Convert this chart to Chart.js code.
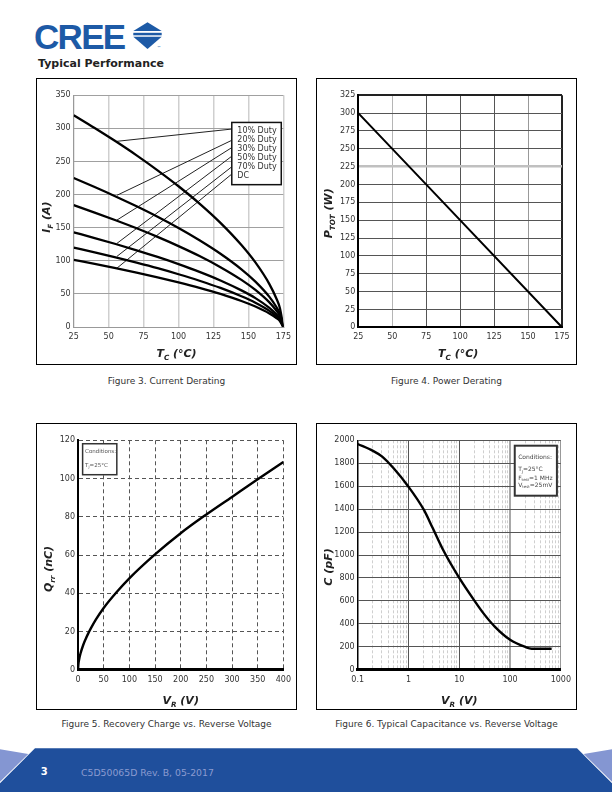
<!DOCTYPE html>
<html>
<head>
<meta charset="utf-8">
<script src="https://cdn.jsdelivr.net/npm/chart.js@4.4.0/dist/chart.umd.min.js"></script>
<style>
  body { margin: 0; background: #fff; }
  #page { position: relative; width: 612px; height: 792px; overflow: hidden; font-family: "DejaVu Sans", Verdana, sans-serif; }
  .box { position: absolute; width: 261px; height: 287px; border: 1px solid #000; box-sizing: border-box; }
  .box canvas { display: block; }
  .cap { position: absolute; width: 261px; text-align: center; font-size: 9px; line-height: 11px; color: #333; }
</style>
</head>
<body>
<div id="page">
  <div style="position:absolute;left:34px;top:18.7px;font:bold 35px/35px 'Liberation Sans',Arial,sans-serif;letter-spacing:-1.7px;color:#1d5aa6;">CREE</div>
  <svg style="position:absolute;left:132px;top:20px" width="34" height="32">
    <polygon points="15.5,2.3 1.3,11 29.7,11" fill="#1d5aa6"/>
    <rect x="1.3" y="12.8" width="28.4" height="2.5" fill="#1d5aa6"/>
    <polygon points="1.3,16.7 29.7,16.7 15.5,29" fill="#1d5aa6"/>
    <text x="25" y="29" font-size="4" fill="#1d5aa6" font-family="DejaVu Sans">™</text>
  </svg>
  <div style="position:absolute;left:38px;top:56.6px;font-weight:bold;font-size:11px;line-height:13px;color:#222;">Typical Performance</div>

  <div class="box" style="left:36px;top:78px"><canvas id="c1" width="259" height="285"></canvas></div>
  <div class="box" style="left:316px;top:78px"><canvas id="c2" width="259" height="285"></canvas></div>
  <div class="box" style="left:36px;top:423px"><canvas id="c3" width="259" height="285"></canvas></div>
  <div class="box" style="left:316px;top:423px"><canvas id="c4" width="259" height="285"></canvas></div>

  <div class="cap" style="left:36px;top:375.5px">Figure 3. Current Derating</div>
  <div class="cap" style="left:316px;top:375.5px">Figure 4. Power Derating</div>
  <div class="cap" style="left:36px;top:718.5px">Figure 5. Recovery Charge vs. Reverse Voltage</div>
  <div class="cap" style="left:316px;top:718.5px">Figure 6. Typical Capacitance vs. Reverse Voltage</div>

  <svg style="position:absolute;left:0;top:742px" width="612" height="50">
    <polygon points="0,7.3 28.3,12 0,39.7" fill="#8496d2"/>
    <polygon points="612,7.3 583.7,12 612,39.7" fill="#8496d2"/>
    <polygon points="35,6.3 577,6.3 612,41.3 612,50 0,50 0,41.3" fill="#1f4f9c"/>
  </svg>
  <div style="position:absolute;left:40.7px;top:766.2px;font-weight:bold;font-size:10px;line-height:12px;color:#fff;">3</div>
  <div style="position:absolute;left:81px;top:766.5px;font-size:9.3px;line-height:12px;color:#8b9bd0;">C5D50065D Rev. B, 05-2017</div>
</div>

<script>
// ---- Figure 3: current derating ----
var tcDerate = [25, 40, 55, 70, 85, 100, 115, 130, 145, 155, 165, 170, 172.5, 175];
var ifDuty10 = [320, 300.7, 280.5, 259.3, 236.7, 212.6, 186.4, 157.3, 123.8, 97.5, 64.8, 43, 28.6, 0];
var ifDuty20 = [225, 211.4, 197.2, 182.3, 166.5, 149.5, 131.0, 110.6, 87.1, 68.5, 45.5, 30.2, 20.1, 0];
var ifDuty30 = [184, 172.9, 161.3, 149.1, 136.1, 122.2, 107.2, 90.4, 71.2, 56.0, 37.2, 24.7, 16.4, 0];
var ifDuty50 = [143, 134.4, 125.4, 115.9, 105.8, 95.0, 83.3, 70.3, 55.3, 43.6, 28.9, 19.2, 12.8, 0];
var ifDuty70 = [120, 112.8, 105.2, 97.2, 88.8, 79.7, 69.9, 59.0, 46.4, 36.6, 24.3, 16.1, 10.7, 0];
var ifDC = [101.5, 95.4, 89.0, 82.2, 75.1, 67.4, 59.1, 49.9, 39.3, 30.9, 20.5, 13.6, 9.1, 0];
var dutyLabels = ['10% Duty', '20% Duty', '30% Duty', '50% Duty', '70% Duty', 'DC'];
// pointer lines: from the curve (Tc = 56) to the label box (Tc = 138)
var leaderTc = [56, 138.1];
var leaderFrom = [280.5, 199, 161.6, 126.4, 106.8, 89];
var leaderTo = [299, 282, 271, 258, 242, 231];
var tcTicks = [25, 50, 75, 100, 125, 150, 175];
var ifTicks = [0, 50, 100, 150, 200, 250, 300, 350];

// ---- Figure 4: power derating ----
var tcPower = [25, 175];
var pTot = [300, 0];
var pTicks = [0, 25, 50, 75, 100, 125, 150, 175, 200, 225, 250, 275, 300, 325];

// ---- Figure 5: recovery charge ----
var vrQ = [0, 1, 2, 5, 10, 15, 20, 25, 35, 50, 75, 100, 150, 200, 250, 300, 350, 400];
var qrr = [0, 3.4, 5.1, 8.6, 12.8, 16.1, 19, 21.6, 26.3, 32.3, 40.5, 47.8, 60.3, 71.4, 81.2, 90.4, 99.6, 108.7];
var vrTicks = [0, 50, 100, 150, 200, 250, 300, 350, 400];
var qTicks = [0, 20, 40, 60, 80, 100, 120];

// ---- Figure 6: capacitance ----
var vrC = [0.1, 0.2, 0.3, 0.5, 1, 2, 3, 5, 10, 20, 30, 50, 100, 200, 267, 400, 660];
var capC = [1968, 1908, 1860, 1760, 1595, 1395, 1235, 1030, 800, 600, 491, 376, 261, 198, 183, 183, 182];
var logTicks = [0.1, 1, 10, 100, 1000];
var cTicks = [0, 200, 400, 600, 800, 1000, 1200, 1400, 1600, 1800, 2000];

var FONT = '"DejaVu Sans", Verdana, sans-serif';
Chart.defaults.font.family = FONT;
Chart.defaults.font.size = 8;
Chart.defaults.color = '#333';

function setTicks(values) {
  return function (s) { s.ticks = values.map(function (v) { return { value: v }; }); };
}
function fixW(w) { return function (s) { s.width = w; }; }
function fixH(h) { return function (s) { s.height = h; }; }
function label(v) { return String(v); }

function curve(xs, ys, w) {
  return {
    data: xs.map(function (x, i) { return { x: x, y: ys[i] }; }),
    borderColor: '#000', borderWidth: w, pointRadius: 0,
    cubicInterpolationMode: 'monotone', fill: false
  };
}

function drawParts(ctx, parts, x, y, size, align, style) {
  if (typeof parts === 'string') parts = [[parts, 0]];
  var big = style + size + 'px ' + FONT;
  var small = style + (size * 0.65).toFixed(1) + 'px ' + FONT;
  var w = 0;
  parts.forEach(function (p) { ctx.font = p[1] ? small : big; w += ctx.measureText(p[0]).width; });
  var px = align === 'center' ? x - w / 2 : x;
  ctx.textAlign = 'left';
  parts.forEach(function (p) {
    ctx.font = p[1] ? small : big;
    ctx.fillText(p[0], px, y + (p[1] ? size * 0.3 : 0));
    px += ctx.measureText(p[0]).width;
  });
}

// axis titles with subscripts, and the boxed notes inside the plots
Chart.register({
  id: 'sheet',
  afterDatasetsDraw: function (chart, args, o) {
    var b = o.box;
    if (!b) return;
    var xs = chart.scales.x, ys = chart.scales.y, ctx = chart.ctx;
    var L = xs.getPixelForValue(b.x0), R = xs.getPixelForValue(b.x1);
    var T = ys.getPixelForValue(b.y0), B = ys.getPixelForValue(b.y1);
    ctx.save();
    ctx.fillStyle = '#fff';
    ctx.fillRect(L, T, R - L, B - T);
    ctx.lineWidth = b.lw;
    ctx.strokeStyle = b.stroke;
    ctx.strokeRect(L, T, R - L, B - T);
    ctx.fillStyle = b.color;
    ctx.textBaseline = 'middle';
    b.lines.forEach(function (ln, i) {
      drawParts(ctx, ln, L + b.padX, T + b.rows[i], b.size, 'left', '');
    });
    ctx.restore();
  },
  afterDraw: function (chart, args, o) {
    var a = chart.chartArea, ctx = chart.ctx;
    ctx.save();
    ctx.fillStyle = '#222';
    ctx.textBaseline = 'alphabetic';
    if (o.xTitle) {
      drawParts(ctx, o.xTitle.parts, (a.left + a.right) / 2 + (o.xTitle.dx || 0), a.bottom + o.xTitle.dy, 11, 'center', 'italic bold ');
    }
    if (o.yTitle) {
      ctx.translate(a.left - o.yTitle.dx, (a.top + a.bottom) / 2 + o.yTitle.dy);
      ctx.rotate(-Math.PI / 2);
      drawParts(ctx, o.yTitle.parts, 0, 0, 11, 'center', 'italic bold ');
    }
    ctx.restore();
  }
});

var base = { responsive: false, animation: false, devicePixelRatio: 1, events: [] };
function opts(extra) { return Object.assign({}, base, extra); }

// Figure 3
var leaders = leaderFrom.map(function (y0, i) {
  return {
    data: [{ x: leaderTc[0], y: y0 }, { x: leaderTc[1], y: leaderTo[i] }],
    borderColor: '#222', borderWidth: 1, pointRadius: 0
  };
});
new Chart(document.getElementById('c1'), {
  type: 'line',
  data: {
    datasets: [
      curve(tcDerate, ifDuty10, 2.3), curve(tcDerate, ifDuty20, 2.3), curve(tcDerate, ifDuty30, 2.3),
      curve(tcDerate, ifDuty50, 2.3), curve(tcDerate, ifDuty70, 2.3), curve(tcDerate, ifDC, 2.3)
    ].concat(leaders)
  },
  options: opts({
    layout: { padding: { left: 0, top: 16.3, right: 10.7, bottom: 0 } },
    plugins: {
      legend: { display: false }, tooltip: { enabled: false },
      sheet: {
        xTitle: { parts: [['T', 0], ['C', 1], [' (°C)', 0]], dy: 29.5, dx: -2 },
        yTitle: { parts: [['I', 0], ['F', 1], [' (A)', 0]], dx: 23.7, dy: 6 },
        box: { x0: 138.1, x1: 173.5, y0: 309, y1: 215, lw: 1.5, stroke: '#111', color: '#333',
               lines: dutyLabels, rows: [8, 17, 26, 35, 44, 53], padX: 5.5, size: 8 }
      }
    },
    scales: {
      x: {
        type: 'linear', min: 25, max: 175,
        afterBuildTicks: setTicks(tcTicks), afterFit: fixH(37),
        grid: { color: '#cfcfcf', lineWidth: 1.5, drawTicks: false },
        border: { color: '#999', width: 1 },
        ticks: { padding: 5, autoSkip: false, maxRotation: 0, callback: label }
      },
      y: {
        type: 'linear', min: 0, max: 350,
        afterBuildTicks: setTicks(ifTicks), afterFit: fixW(36.7),
        grid: { color: '#a0a0a0', lineWidth: 1, drawTicks: false },
        border: { color: '#999', width: 1 },
        ticks: { padding: 3, autoSkip: false, callback: label }
      }
    }
  })
});

// Figure 4
new Chart(document.getElementById('c2'), {
  type: 'line',
  data: { datasets: [curve(tcPower, pTot, 2)] },
  options: opts({
    layout: { padding: { left: 0, top: 16.3, right: 14, bottom: 0 } },
    plugins: {
      legend: { display: false }, tooltip: { enabled: false },
      sheet: {
        xTitle: { parts: [['T', 0], ['C', 1], [' (°C)', 0]], dy: 29.5, dx: -2 },
        yTitle: { parts: [['P', 0], ['TOT', 1], [' (W)', 0]], dx: 26.3, dy: 2 }
      }
    },
    scales: {
      x: {
        type: 'linear', min: 25, max: 175,
        afterBuildTicks: setTicks(tcTicks), afterFit: fixH(36.7),
        grid: {
          drawTicks: false,
          color: function (c) { var v = c.tick && c.tick.value; return v === 50 ? '#b5b5b5' : v === 150 ? '#999' : v === 175 ? '#222' : '#555'; },
          lineWidth: function (c) { return c.tick && c.tick.value === 175 ? 2 : 1; }
        },
        border: { color: '#000', width: 2 },
        ticks: { padding: 5, autoSkip: false, maxRotation: 0, callback: label }
      },
      y: {
        type: 'linear', min: 0, max: 325,
        afterBuildTicks: setTicks(pTicks), afterFit: fixW(41.3),
        grid: {
          drawTicks: false,
          color: function (c) { var v = c.tick && c.tick.value; return v === 225 ? '#c0c0c0' : v === 325 ? '#222' : '#555'; },
          lineWidth: function (c) { var v = c.tick && c.tick.value; return v === 225 ? 2.5 : v === 325 ? 2 : 1; }
        },
        border: { color: '#000', width: 2 },
        ticks: { padding: 3, autoSkip: false, callback: label }
      }
    }
  })
});

// Figure 5
new Chart(document.getElementById('c3'), {
  type: 'line',
  data: { datasets: [curve(vrQ, qrr, 2.4)] },
  options: opts({
    layout: { padding: { left: 0, top: 16.3, right: 10, bottom: 0 } },
    plugins: {
      legend: { display: false }, tooltip: { enabled: false },
      sheet: {
        xTitle: { parts: [['V', 0], ['R', 1], [' (V)', 0]], dy: 34, dx: 0 },
        yTitle: { parts: [['Q', 0], ['rr', 1], [' (nC)', 0]], dx: 26, dy: 14 },
        box: { x0: 9, x1: 75.6, y0: 118.2, y1: 102, lw: 1.5, stroke: '#333', color: '#555',
               lines: ['Conditions:', [['T', 0], ['J', 1], ['=25°C', 0]]], rows: [8.3, 21.6], padX: 2.5, size: 5.5 }
      }
    },
    scales: {
      x: {
        type: 'linear', min: 0, max: 400,
        afterBuildTicks: setTicks(vrTicks), afterFit: fixH(39.3),
        grid: { color: '#555', lineWidth: 1, drawTicks: false },
        border: { color: '#000', width: 3, dash: [4, 3] },
        ticks: { padding: 5, autoSkip: false, maxRotation: 0, callback: label }
      },
      y: {
        type: 'linear', min: 0, max: 120,
        afterBuildTicks: setTicks(qTicks), afterFit: fixW(41),
        grid: { color: '#555', lineWidth: 1, drawTicks: false },
        border: { color: '#000', width: 2, dash: [4, 3] },
        ticks: { padding: 3, autoSkip: false, callback: label }
      }
    }
  })
});

// Figure 6
var minorLog = [];
logTicks.slice(0, -1).forEach(function (d) {
  for (var k = 2; k <= 9; k++) minorLog.push(d * k);
});
new Chart(document.getElementById('c4'), {
  type: 'line',
  data: { datasets: [curve(vrC, capC, 2.4)] },
  options: opts({
    layout: { padding: { left: 0, top: 16.3, right: 9.3, bottom: 0 } },
    plugins: {
      legend: { display: false }, tooltip: { enabled: false },
      sheet: {
        xTitle: { parts: [['V', 0], ['R', 1], [' (V)', 0]], dy: 34, dx: 0 },
        yTitle: { parts: [['C (pF)', 0]], dx: 25.7, dy: 12 },
        box: { x0: 123.8, x1: 837.6, y0: 1953, y1: 1517, lw: 2, stroke: '#333', color: '#444',
               lines: ['Conditions:', [['T', 0], ['J', 1], ['=25°C', 0]], [['F', 0], ['test', 1], ['=1 MHz', 0]], [['V', 0], ['test', 1], ['=25mV', 0]]],
               rows: [11.3, 24, 32.3, 39.6], padX: 3.4, size: 6 }
      }
    },
    scales: {
      x: {
        type: 'logarithmic', min: 0.1, max: 1000,
        afterBuildTicks: setTicks(logTicks), afterFit: fixH(39.3),
        grid: {
          drawTicks: false,
          color: function (c) { var v = c.tick && c.tick.value; return v === 100 ? '#a8a8a8' : v === 1000 ? '#999' : '#555'; },
          lineWidth: function (c) { return c.tick && c.tick.value === 100 ? 2 : 1; }
        },
        border: { color: '#000', width: 3 },
        ticks: { padding: 5, autoSkip: false, maxRotation: 0, callback: label }
      },
      x2: {
        type: 'logarithmic', min: 0.1, max: 1000, position: 'bottom',
        afterBuildTicks: setTicks(minorLog), afterFit: fixH(0),
        grid: { color: '#cfcfcf', lineWidth: 1, drawTicks: false },
        border: { display: false, dash: [3, 2] },
        ticks: { display: false, autoSkip: false }
      },
      y: {
        type: 'linear', min: 0, max: 2000,
        afterBuildTicks: setTicks(cTicks), afterFit: fixW(40.7),
        grid: { color: '#555', lineWidth: 1, drawTicks: false },
        border: { color: '#000', width: 1.5 },
        ticks: { padding: 3, autoSkip: false, callback: label }
      }
    }
  })
});
</script>
</body>
</html>
